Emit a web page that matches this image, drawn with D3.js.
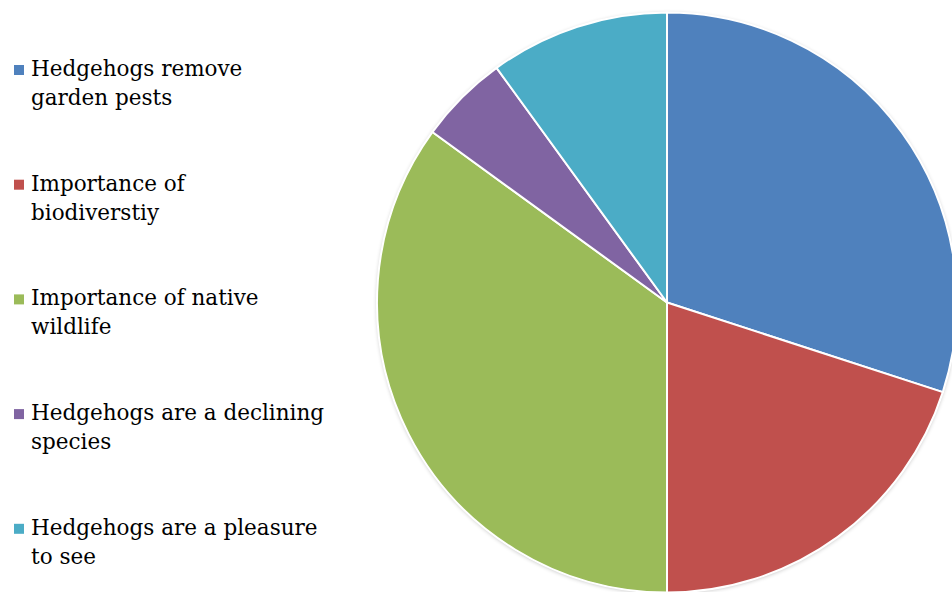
<!DOCTYPE html>
<html>
<head>
<meta charset="utf-8">
<script src="https://cdn.jsdelivr.net/npm/d3@7"></script>
<style>
  html, body { margin: 0; padding: 0; background: #fff; }
  svg { display: block; }
</style>
</head>
<body>
<svg id="chart" width="952" height="592"></svg>
<script>
// Reasons for helping hedgehogs (percent share)
const categories = [
  "Hedgehogs remove garden pests",
  "Importance of biodiverstiy",
  "Importance of native wildlife",
  "Hedgehogs are a declining species",
  "Hedgehogs are a pleasure to see"
];
const legendLines = [
  ["Hedgehogs remove", "garden pests"],
  ["Importance of", "biodiverstiy"],
  ["Importance of native", "wildlife"],
  ["Hedgehogs are a declining", "species"],
  ["Hedgehogs are a pleasure", "to see"]
];
const values = [30, 20, 35, 5, 10];
const colors = ["#4F81BD", "#C0504D", "#9BBB59", "#8064A2", "#4BACC6"];

const svg = d3.select("#chart");
const cx = 667, cy = 302.5, r = 290;

const defs = svg.append("defs");
const shadow = defs.append("filter").attr("id", "soft")
  .attr("x", "-10%").attr("y", "-10%").attr("width", "120%").attr("height", "120%");
shadow.append("feGaussianBlur").attr("in", "SourceAlpha").attr("stdDeviation", 2);
shadow.append("feOffset").attr("dx", 0).attr("dy", 1).attr("result", "b");
shadow.append("feComponentTransfer").append("feFuncA").attr("type", "linear").attr("slope", 0.25);
const merge = shadow.append("feMerge");
merge.append("feMergeNode");
merge.append("feMergeNode").attr("in", "SourceGraphic");

const color = d3.scaleOrdinal().domain(categories).range(colors);
const pie = d3.pie().sort(null).value(d => d.v);
const arc = d3.arc().innerRadius(0).outerRadius(r);
const data = categories.map((c, i) => ({ c, v: values[i] }));

const g = svg.append("g").attr("transform", `translate(${cx},${cy})`);
g.append("circle").attr("r", r).attr("fill", "#fff").attr("filter", "url(#soft)");
g.selectAll("path.slice")
  .data(pie(data))
  .join("path")
  .attr("class", "slice")
  .attr("d", arc)
  .attr("fill", d => color(d.data.c))
  .attr("stroke", "#fff")
  .attr("stroke-width", 2)
  .attr("stroke-linejoin", "round");

// Legend
const legend = svg.append("g").attr("font-family", "'DejaVu Serif', serif")
  .attr("font-size", 21.5).attr("fill", "#000");
const item = legend.selectAll("g.item")
  .data(categories)
  .join("g")
  .attr("class", "item")
  .attr("transform", (d, i) => `translate(0, ${76 + i * 114.7})`);
item.append("rect")
  .attr("x", 14).attr("y", -11).attr("width", 10).attr("height", 10)
  .attr("fill", d => color(d));
item.each(function(d, i) {
  const t = d3.select(this).append("text").attr("x", 31).attr("y", 0);
  legendLines[i].forEach((ln, j) => {
    t.append("tspan").attr("x", 31).attr("dy", j === 0 ? 0 : 29).text(ln);
  });
});
</script>
</body>
</html>
